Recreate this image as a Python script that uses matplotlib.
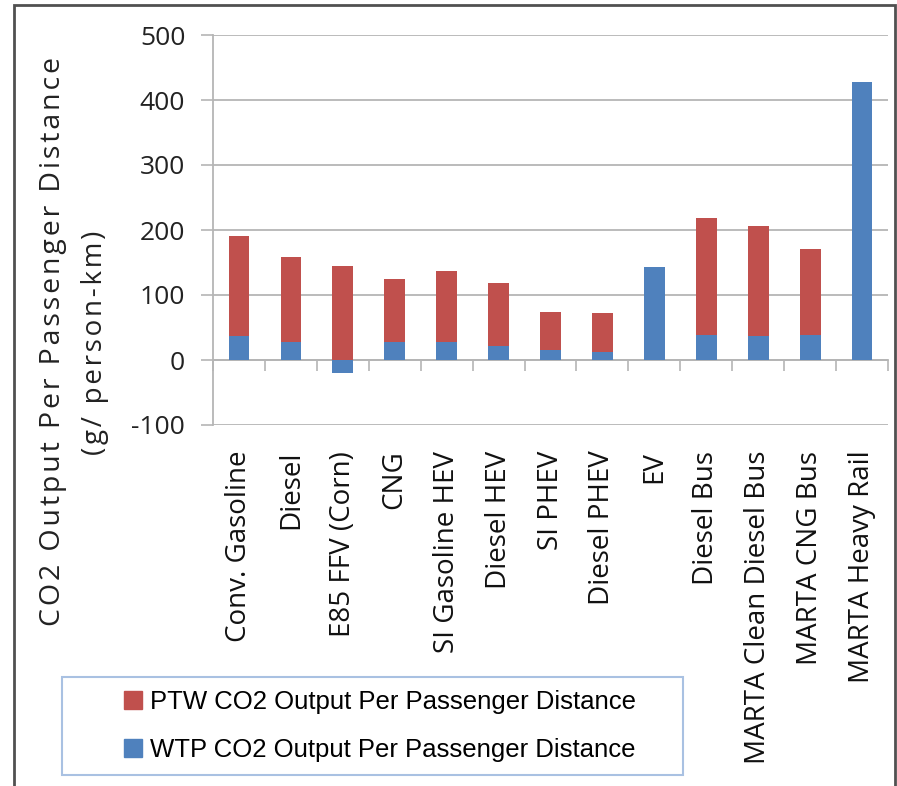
import numpy as np
import matplotlib.pyplot as plt
from matplotlib.patches import Rectangle, Patch
from matplotlib.transforms import blended_transform_factory

# CO2 per passenger-km by vehicle / fuel pathway
categories = ["Conv. Gasoline", "Diesel", "E85 FFV (Corn)", "CNG", "SI Gasoline HEV",
              "Diesel HEV", "SI PHEV", "Diesel PHEV", "EV", "Diesel Bus",
              "MARTA Clean Diesel Bus", "MARTA CNG Bus", "MARTA Heavy Rail"]
wtp = [37, 28, -20, 27, 27, 21, 15, 13, 143, 38, 37, 38, 427]
ptw = [154, 131, 145, 97, 110, 98, 59, 59, 0, 181, 169, 133, 0]
yticks = [-100, 0, 100, 200, 300, 400, 500]

RED = "#C0504D"
BLUE = "#4F81BD"
GRID = "#b5b5b5"
FONT = ["Open Sans", "DejaVu Sans"]


def spaced(s, gap="\u200a"):
    # loose tracking for the axis title
    return gap.join(s)


W, H = 897, 786
fig = plt.figure(figsize=(W / 100, H / 100), dpi=100)
ax = fig.add_axes([213 / W, 1 - 425 / H, (888 - 213) / W, 390 / H])

x = np.arange(len(categories))
wtp = np.array(wtp)
ptw = np.array(ptw)
ax.bar(x, wtp, width=0.4, color=BLUE, zorder=3)
ax.bar(x, ptw, width=0.4, bottom=np.maximum(wtp, 0), color=RED, zorder=3)

ax.set_xlim(-0.5, len(categories) - 0.5)
ax.set_ylim(-100, 500)
ax.set_yticks(yticks)
ax.set_yticklabels([str(v) for v in yticks], family=FONT, fontsize=19, color="#222222")
ax.grid(axis="y", color=GRID, lw=1.3, zorder=0)
ax.tick_params(axis="y", length=9, width=1.2, color=GRID, pad=11)

# category axis crosses at zero, ticks between categories
ax.spines["bottom"].set_position(("data", 0))
ax.spines["bottom"].set_color(GRID)
ax.spines["bottom"].set_linewidth(1.3)
ax.set_xticks(np.arange(-0.5, len(categories)))
ax.set_xticklabels([])
ax.tick_params(axis="x", length=8, width=1.2, color=GRID, direction="out")
ax.spines["left"].set_color(GRID)
ax.spines["left"].set_linewidth(1.3)
ax.spines["top"].set_visible(False)
ax.spines["right"].set_visible(False)

trans = blended_transform_factory(ax.transData, ax.transAxes)
for i, name in enumerate(categories):
    ax.text(i, -0.066, name, transform=trans, rotation=90, ha="center", va="top",
            fontsize=20, family=FONT, color="#111111")

fig.text(53 / W, 1 - 341 / H, spaced("CO2 Output Per Passenger Distance"),
         rotation=90, ha="center", va="center", fontsize=20.5, family=FONT, color="#222222")
fig.text(95 / W, 1 - 343 / H, spaced("(g/ person-km)"),
         rotation=90, ha="center", va="center", fontsize=20, family=FONT, color="#222222")

# legend with its own box
fig.patches.append(Rectangle((62 / W, 1 - 775 / H), (683 - 62) / W, 98 / H,
                             transform=fig.transFigure, fill=False,
                             edgecolor="#a9c1e2", lw=1.5))
handles = [Patch(color=RED), Patch(color=BLUE)]
labels = ["PTW CO2 Output Per Passenger Distance", "WTP CO2 Output Per Passenger Distance"]
fig.legend(handles, labels, loc="center", bbox_to_anchor=(380 / W, 1 - 726 / H),
           frameon=False, handlelength=0.7, handleheight=0.7, handletextpad=0.3,
           labelspacing=0.9, prop={"family": ["Liberation Sans Narrow", "Liberation Sans"],
                                   "size": 18.5})

# outer chart frame
fig.patches.append(Rectangle((14 / W, -0.02), (895 - 14) / W, 1 - 5 / H + 0.02,
                             transform=fig.transFigure, fill=False,
                             edgecolor="#505050", lw=2))

fig.savefig("out.png", dpi=100)
